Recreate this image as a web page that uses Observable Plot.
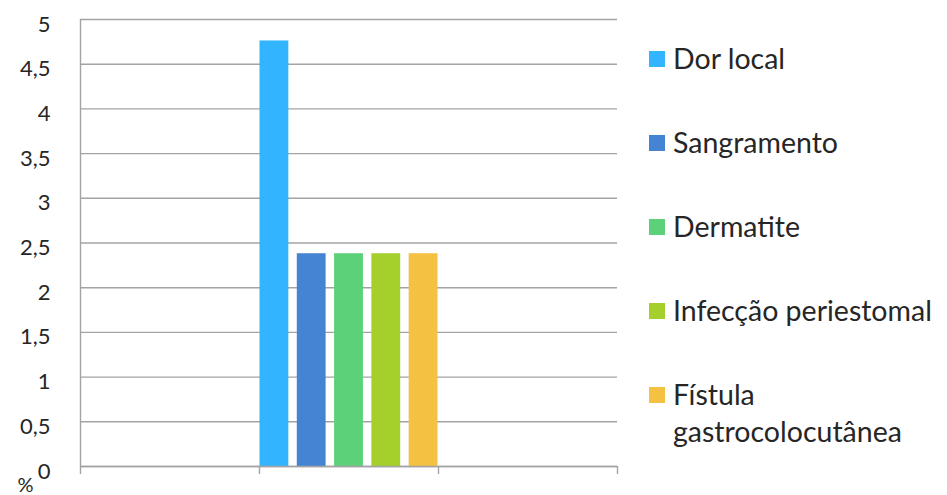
<!DOCTYPE html>
<html>
<head>
<meta charset="utf-8">
<script src="https://cdn.jsdelivr.net/npm/d3@7"></script>
<script src="https://cdn.jsdelivr.net/npm/@observablehq/plot@0.6"></script>
<style>
  html, body { margin: 0; padding: 0; background: #fff; }
  #wrap { position: relative; width: 947px; height: 495px; overflow: hidden; font-family: Lato, "Open Sans", sans-serif; color: #262626; }
  #chart { position: absolute; left: 0; top: 0; }
  #legend { position: absolute; left: 649px; top: 40px; width: 298px; }
  .item { display: flex; align-items: flex-start; margin-bottom: 47px; }
  .swatch { width: 16px; height: 16px; margin-top: 11px; margin-right: 8px; flex: none; }
  .label { font-size: 28.5px; line-height: 37px; flex: 1 1 auto; min-width: 0; white-space: normal; }
</style>
</head>
<body>
<div id="wrap">
  <div id="chart"></div>
  <div id="legend"></div>
</div>
<script>
// Complication types and their share (%)
const series = ["Dor local", "Sangramento", "Dermatite", "Infecção periestomal", "Fístula gastrocolocutânea"];
const values = [4.76, 2.38, 2.38, 2.38, 2.38];
const colors = ["#33b4ff", "#4584d3", "#5dd17a", "#a5d02b", "#f4c142"];

// Category axis: three slots, the bars occupy the middle one
const slotBounds = [0, 1, 2, 3];
const barSlot = 1;

// Value axis ticks
const yTicks = [0, 0.5, 1, 1.5, 2, 2.5, 3, 3.5, 4, 4.5, 5];

// Place each series inside its category slot
const inner = d3.scaleBand().domain(series).range([barSlot, barSlot + 1]).paddingInner(0.2).paddingOuter(0);
const rows = series.map((name, i) => ({name, value: values[i], color: colors[i]}));

const gridColor = "#a3a3a3";
const fmt = d => String(d).replace(".", ",");

const chart = Plot.plot({
  width: 640,
  height: 495,
  marginLeft: 80,
  marginRight: 23,
  marginTop: 19,
  marginBottom: 29,
  style: {fontFamily: "Lato, 'Open Sans', sans-serif", background: "#fff", color: "#262626"},
  x: {domain: [slotBounds[0], slotBounds[slotBounds.length - 1]]},
  y: {domain: [0, 5]},
  marks: [
    Plot.gridY(yTicks, {stroke: gridColor, strokeOpacity: 1, strokeWidth: 1.4}),
    Plot.ruleX([slotBounds[0]], {stroke: gridColor, strokeWidth: 1.4}),
    Plot.rectY(rows, {
      x1: d => inner(d.name),
      x2: d => inner(d.name) + inner.bandwidth(),
      y: "value",
      fill: "color",
      insetLeft: 0.5, insetRight: 0.5
    }),
    Plot.ruleY([0], {stroke: gridColor, strokeWidth: 1.4}),
    Plot.axisX({ticks: slotBounds, tickSize: 8, tickFormat: () => "", stroke: gridColor, strokeWidth: 1.4, strokeOpacity: 1}),
    Plot.axisY({ticks: yTicks, tickSize: 0, tickPadding: 30, tickFormat: fmt, fontSize: 22, dy: 5, label: null}),
    Plot.text(["%"], {frameAnchor: "bottom-left", dx: -63, dy: 25, fontSize: 20, fill: "#262626"})
  ]
});
document.getElementById("chart").appendChild(chart);

// Legend beside the plot
const legend = document.getElementById("legend");
rows.forEach(r => {
  const item = document.createElement("div");
  item.className = "item";
  const sw = document.createElement("div");
  sw.className = "swatch";
  sw.style.background = r.color;
  const lab = document.createElement("div");
  lab.className = "label";
  lab.textContent = r.name;
  item.appendChild(sw);
  item.appendChild(lab);
  legend.appendChild(item);
});
</script>
</body>
</html>
